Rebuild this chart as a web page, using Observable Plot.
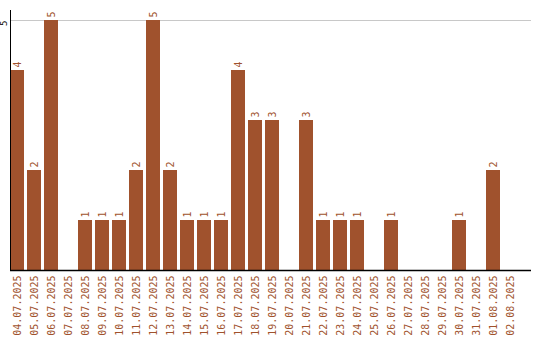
<!DOCTYPE html>
<html>
<head>
<meta charset="utf-8">
<script src="https://cdn.jsdelivr.net/npm/d3@7"></script>
<script src="https://cdn.jsdelivr.net/npm/@observablehq/plot@0.6"></script>
<style>
  html, body { margin: 0; padding: 0; background: #fff; }
  svg { display: block; }
</style>
</head>
<body>
<div id="chart"></div>
<script>
const dates = ["04.07.2025","05.07.2025","06.07.2025","07.07.2025","08.07.2025","09.07.2025","10.07.2025","11.07.2025","12.07.2025","13.07.2025","14.07.2025","15.07.2025","16.07.2025","17.07.2025","18.07.2025","19.07.2025","20.07.2025","21.07.2025","22.07.2025","23.07.2025","24.07.2025","25.07.2025","26.07.2025","27.07.2025","28.07.2025","29.07.2025","30.07.2025","31.07.2025","01.08.2025","02.08.2025"];
const counts = [4,2,5,0,1,1,1,2,5,2,1,1,1,4,3,3,0,3,1,1,1,0,1,0,0,0,1,0,2,0];
const yTicks = [5];

const data = dates.map((d, i) => ({date: d, count: counts[i]}));
const color = "#a0522d";
const font = "DejaVu Sans Mono, monospace";

const chart = Plot.plot({
  width: 540,
  height: 340,
  marginTop: 10,
  marginLeft: 10,
  marginRight: 9,
  marginBottom: 70,
  style: {fontFamily: font, fontSize: "10px", background: "#fff"},
  x: {domain: dates, range: [10, 517], paddingInner: 3/17, paddingOuter: 0, label: null},
  y: {domain: [0, 5.2], label: null, axis: null},
  marks: [
    Plot.gridY(yTicks, {stroke: "#c8c8c8", strokeOpacity: 1}),
    Plot.barY(data, {x: "date", y: "count", fill: color}),
    Plot.text(data.filter(d => d.count > 0), {x: "date", y: "count", text: d => String(d.count), rotate: -90, textAnchor: "start", lineAnchor: "middle", dy: -3, fill: color, fontSize: 10}),
    Plot.axisX({tickSize: 0, tickRotate: -90, tickPadding: 5, fill: color, fontSize: 10, label: null}),
    Plot.text(yTicks, {y: d => d, text: d => String(d), frameAnchor: "left", dx: -6, rotate: -90, textAnchor: "end", lineAnchor: "middle", fill: "#000", fontSize: 9}),
    Plot.frame({anchor: "left", stroke: "#000", strokeWidth: 1}),
    Plot.ruleY([0], {stroke: "#000", strokeWidth: 1.5})
  ]
});
document.getElementById("chart").appendChild(chart);
</script>
</body>
</html>
